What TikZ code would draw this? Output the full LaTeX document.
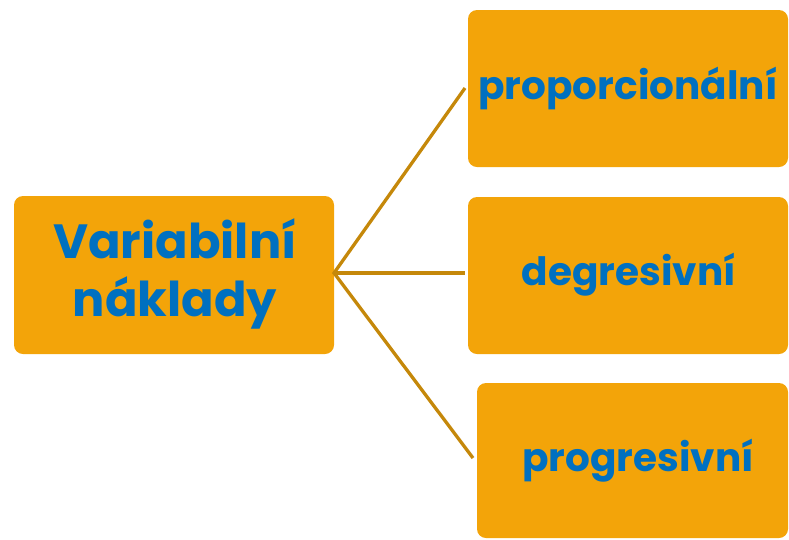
\documentclass[tikz,border=0pt]{standalone}
\usepackage{fontspec}
\setmainfont{Poppins}
\definecolor{boxfill}{HTML}{F3A409}
\definecolor{txtblue}{HTML}{0070C0}
\definecolor{linecol}{HTML}{C5880A}
\begin{document}
\begin{tikzpicture}[x=1pt,y=-1pt,
  box/.style={fill=boxfill,rounded corners=9pt,inner sep=0pt,anchor=north west},
  lbl/.style={text=txtblue,font=\bfseries,align=center},
  conn/.style={draw=linecol,line width=3.3pt}]
\useasboundingbox (0,0) rectangle (789,539);
\path[box] (14,196) rectangle (334,354);
\path[box] (468,10) rectangle (788,167);
\path[box] (468,197) rectangle (788,354);
\path[box] (477,383) rectangle (788,538);
\node[lbl,font=\bfseries\fontsize{48}{58}\selectfont] (v) at (175,274) {Variabilní\\náklady};
\node[lbl,font=\bfseries\fontsize{39}{44}\selectfont] (p1) at (628,88) {proporcionální};
\node[lbl,font=\bfseries\fontsize{39}{44}\selectfont] (p2) at (629,275) {degresivní};
\node[lbl,font=\bfseries\fontsize{39}{44}\selectfont] (p3) at (638,461) {progresivní};
\coordinate (src) at (334,273);
\coordinate (e1) at (465,88);
\coordinate (e2) at (465,273);
\coordinate (e3) at (473,458);
\draw[conn] (e1) -- (src) -- (e3);
\draw[conn] (src) -- (e2);
\end{tikzpicture}
\end{document}
